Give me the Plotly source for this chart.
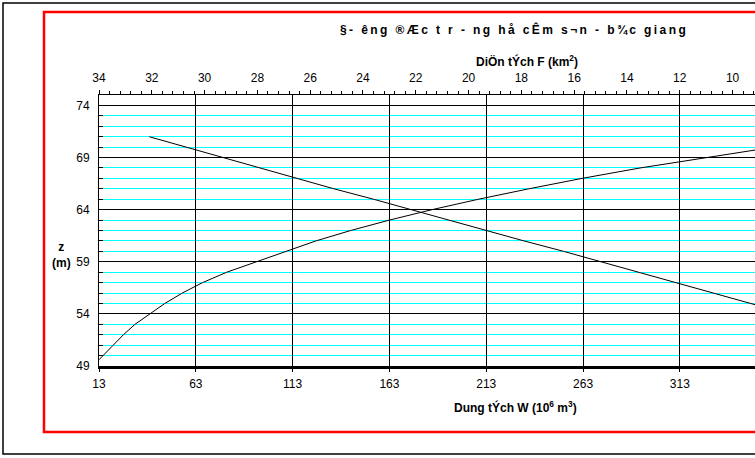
import plotly.graph_objects as go

# ---- data ----
z_w = [49.6, 51, 52, 53, 54, 55, 56, 57, 58, 59, 60, 61, 62, 63, 64, 65, 66, 67, 68, 69, 70]
w_vals = [13, 20.4, 25.6, 31.6, 39, 47, 56, 66.5, 79, 94, 109, 125, 143, 163, 185, 209, 235, 262.5, 292.5, 325.5, 361.5]

z_f = [71, 70, 69, 68, 67, 66, 65, 64, 63, 62, 61, 60, 59, 58, 57, 56, 55, 54]
f_vals = [32.1, 30.7, 29.4, 28.0, 26.5, 25.1, 23.6, 22.2, 20.7, 19.3, 17.9, 16.4, 15.0, 13.6, 12.2, 10.8, 9.3, 7.9]

title_text = "§- êng ®Æc t r - ng hå cÊm s¬n - b¾c giang"
top_title = "DiÖn tÝch F (km<sup>2</sup>)"
bottom_title = "Dung tÝch W (10<sup>6</sup> m<sup>3</sup>)"
left_title = "z<br>(m)"

# ---- layout geometry (pixels) ----
W, H = 755, 458
L, R, T, B = 99, 0, 95, 92
PW, PH = W - L - R, H - T - B

def px(x):
    return (x - L) / PW

def py(y):
    return (H - B - y) / PH

FONT = "Arial, Liberation Sans, sans-serif"

fig = go.Figure()
fig.add_trace(go.Scatter(x=w_vals, y=z_w, mode="lines", line=dict(color="black", width=1),
                         xaxis="x", yaxis="y", showlegend=False, hoverinfo="skip"))
fig.add_trace(go.Scatter(x=f_vals, y=z_f, mode="lines", line=dict(color="black", width=1),
                         xaxis="x2", yaxis="y", showlegend=False, hoverinfo="skip"))

fig.update_layout(
    width=W, height=H,
    margin=dict(l=L, r=R, t=T, b=B, pad=0),
    paper_bgcolor="white", plot_bgcolor="white",
    font=dict(family=FONT, size=12, color="black"),
    xaxis=dict(range=[13, 351.8], tick0=13, dtick=50, showgrid=True, gridcolor="black", gridwidth=1,
               showline=True, linecolor="black", linewidth=2.5, ticks="outside", ticklen=3,
               tickcolor="black", zeroline=False, tickfont=dict(size=12), ticklabelstandoff=2),
    xaxis2=dict(range=[34, 9.15], tick0=34, dtick=2, overlaying="x", side="top", anchor="y",
                showgrid=False, showline=True, linecolor="black", linewidth=1,
                ticks="outside", ticklen=4, tickcolor="black", zeroline=False,
                minor=dict(dtick=0.4, ticks="outside", ticklen=3, tickcolor="black", showgrid=False),
                tickfont=dict(size=12), ticklabelstandoff=3),
    yaxis=dict(range=[49, 75], tick0=49, dtick=5, showgrid=True, gridcolor="black", gridwidth=1,
               showline=True, linecolor="black", linewidth=1, ticks="inside", ticklen=4,
               tickcolor="black", zeroline=False, tickfont=dict(size=12), ticklabelstandoff=6,
               minor=dict(dtick=1, showgrid=True, gridcolor="#00FFFF", gridwidth=1,
                          ticks="inside", ticklen=4, tickcolor="black")),
)

shapes = [
    dict(type="rect", xref="paper", yref="paper", x0=px(3), x1=px(800), y0=py(3), y1=py(454),
         line=dict(color="black", width=1.5), fillcolor="rgba(0,0,0,0)", layer="below"),
    dict(type="rect", xref="paper", yref="paper", x0=px(44), x1=px(800), y0=py(12), y1=py(432),
         line=dict(color="red", width=2.5), fillcolor="rgba(0,0,0,0)", layer="below"),
]
fig.update_layout(shapes=shapes)

spaced_title = "\u2009".join(title_text)

ann = [
    dict(text="<b>" + spaced_title + "</b>", x=px(513), y=py(30), font=dict(size=12, family=FONT)),
    dict(text="<b>" + top_title + "</b>", x=px(527), y=py(61), font=dict(size=12, family=FONT)),
    dict(text="<b>" + bottom_title + "</b>", x=px(515), y=py(407), font=dict(size=12, family=FONT)),
    dict(text="<b>" + left_title + "</b>", x=px(61), y=py(255), font=dict(size=12, family=FONT)),
]
for a in ann:
    a.update(xref="paper", yref="paper", showarrow=False, xanchor="center", yanchor="middle")
fig.update_layout(annotations=ann)

fig.write_html("out.html", config={"displayModeBar": False},
               post_script="document.body.style.margin='0';document.body.style.overflow='hidden';")
